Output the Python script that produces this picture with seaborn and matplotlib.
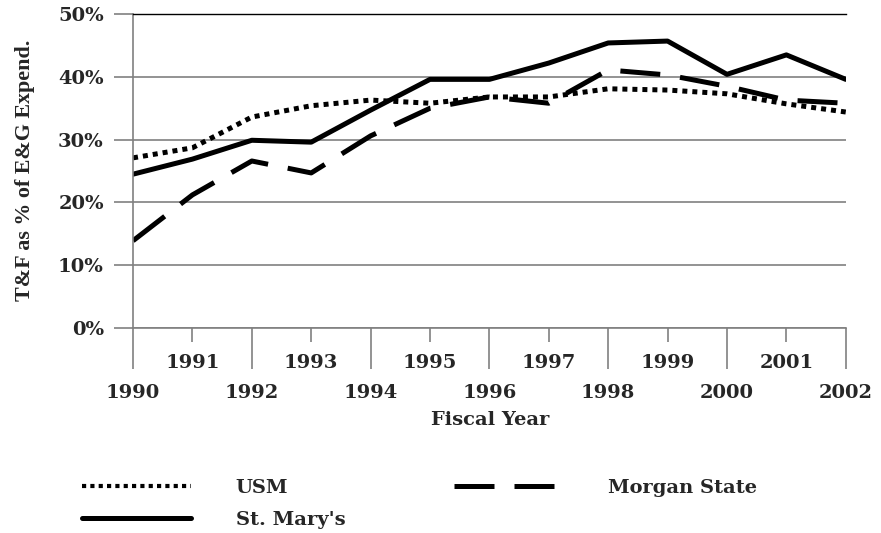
"""T&F share of E&G expenditures, fiscal years 1990-2002."""

import matplotlib.pyplot as plt
import pandas as pd
import seaborn as sns

years = list(range(1990, 2003))
usm = [27.1, 28.7, 33.6, 35.4, 36.3, 35.8, 36.8, 36.8, 38.1, 37.9, 37.3, 35.7, 34.4]
st_marys = [24.5, 26.9, 29.9, 29.6, 34.7, 39.6, 39.6, 42.2, 45.4, 45.7, 40.4, 43.5, 39.6]
morgan_state = [13.9, 21.2, 26.6, 24.7, 30.6, 35.0, 36.8, 35.8, 41.1, 40.3, 38.5, 36.3, 35.8]
y_ticks = [0, 10, 20, 30, 40, 50]

school_order = ["USM", "St. Mary's", "Morgan State"]

df = pd.DataFrame(
    {
        "Fiscal Year": years * 3,
        "Share": usm + st_marys + morgan_state,
        "School": ["USM"] * 13 + ["St. Mary's"] * 13 + ["Morgan State"] * 13,
    }
)

sns.set_theme(style="white")
plt.rcParams["font.family"] = ["DejaVu Serif"]
plt.rcParams["font.weight"] = "bold"

fig = plt.figure(figsize=(8.81, 5.33), dpi=100)
ax = fig.add_axes([0.151, 0.3846, 0.809, 0.589])

grey = "#808080"

sns.lineplot(
    data=df,
    x="Fiscal Year",
    y="Share",
    hue="School",
    style="School",
    hue_order=school_order,
    style_order=school_order,
    palette=["black", "black", "black"],
    dashes={"USM": (1, 1), "St. Mary's": "", "Morgan State": (8, 4)},
    linewidth=3.6,
    ax=ax,
)
for line in ax.get_lines():
    if line.get_label() == "USM":
        line.set_linewidth(3.0)
    line.set_dash_capstyle("butt")

ax.set_xlim(1990, 2002)
ax.set_ylim(0, 50)

# y axis: gridlines that poke out to the left as ticks
ax.set_yticks(y_ticks)
ax.set_yticklabels([f"{v}%" for v in y_ticks])
ax.yaxis.grid(True, color=grey, linewidth=1.2)
ax.tick_params(
    axis="y", which="major", length=14, width=1.2, color=grey, pad=7,
    labelsize=14, left=True,
)

# x axis: long ticks on even years, short ticks on odd years
even_years = [y for y in years if y % 2 == 0]
odd_years = [y for y in years if y % 2 == 1]
ax.set_xticks(even_years)
ax.set_xticklabels([str(y) for y in even_years])
ax.set_xticks(odd_years, minor=True)
ax.set_xticklabels([str(y) for y in odd_years], minor=True)
ax.tick_params(
    axis="x", which="major", length=29.5, width=1.2, color=grey, pad=10.5,
    labelsize=14, bottom=True,
)
ax.tick_params(
    axis="x", which="minor", length=10, width=1.2, color=grey, pad=9,
    labelsize=14, bottom=True,
)
ax.xaxis.grid(False)

ax.spines["right"].set_visible(False)
ax.spines["top"].set_color("black")
ax.spines["top"].set_linewidth(1.0)
for side in ["left", "bottom"]:
    ax.spines[side].set_color(grey)
    ax.spines[side].set_linewidth(1.2)

ax.set_xlabel("")
ax.set_ylabel("")
fig.text(
    25 / 881, 1 - 170 / 533, "T&F as % of E&G Expend.",
    rotation=90, ha="center", va="center",
    family=["Liberation Serif"], weight="bold", fontsize=15.8,
)
fig.text(
    490 / 881, 1 - 420 / 533, "Fiscal Year",
    ha="center", va="center", fontsize=14, weight="bold",
)

handles, labels = ax.get_legend_handles_labels()
ax.get_legend().remove()
for h in handles:
    h.set_dash_capstyle("butt")
fig.legend(
    handles,
    labels,
    loc="upper left",
    bbox_to_anchor=(82 / 881, 1 - 479 / 533),
    ncol=2,
    frameon=False,
    fontsize=14,
    handlelength=5.6,
    handletextpad=2.3,
    columnspacing=5.6,
    labelspacing=0.72,
    borderpad=0,
    borderaxespad=0,
)

fig.savefig("out.png", dpi=100)
